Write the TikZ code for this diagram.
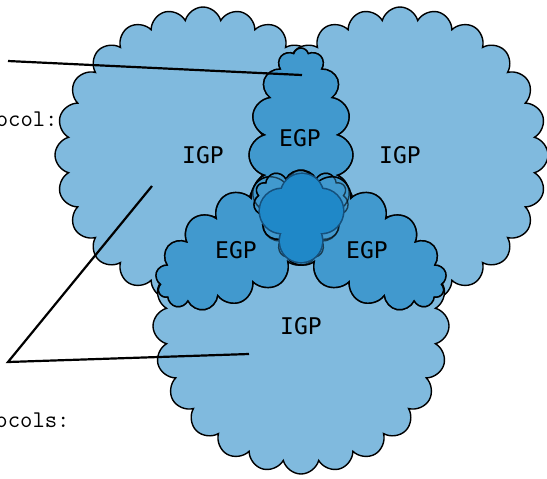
\documentclass[tikz,border=0pt]{standalone}
\usepackage{fontspec}
\newfontfamily\cloudfont{DejaVu Sans Mono}
\usepackage{tikz}
\usetikzlibrary{shapes.symbols}
\usetikzlibrary{positioning}
\usetikzlibrary{calc}
\definecolor{igpblue}{HTML}{80BADE}
\definecolor{egpblue}{HTML}{4199CE}
\definecolor{coreblue}{HTML}{1F88C8}
\definecolor{coreline}{HTML}{15507C}
\tikzstyle{igp}=[cloud, cloud puffs=24, cloud ignores aspect, fill=igpblue, draw, line width=0.7pt, minimum width=148pt, minimum height=148pt, inner sep=0pt]
\tikzstyle{egp}=[cloud, cloud puffs=16, cloud ignores aspect, fill=egpblue, draw, line width=0.7pt, minimum width=107pt, minimum height=52pt, inner sep=0pt]
\tikzstyle{egpedge}=[egp, fill=none, draw opacity=0.6]
\tikzstyle{cloudlabel}=[font=\cloudfont\fontsize{11.5}{14}\selectfont, inner sep=0pt]
\tikzstyle{sidelabel}=[font=\ttfamily\fontsize{12}{14}\selectfont, inner sep=0pt, anchor=base east]
\tikzstyle{pointer}=[draw, line width=1.1pt]

\begin{document}
\begin{tikzpicture}[x=0.5pt, y=-0.5pt]
    \useasboundingbox (0,0) rectangle (547,478);

    % the three IGP domains
    \foreach \x/\y/\n in {203/155/L, 400/155/R, 301/326/B}
        \node[igp] (igp\n) at (\x,\y) {};

    % the three EGP links, then their borders once more
    \foreach \x/\y/\rot/\n in {301/155/90/T, 252/240/210/L, 350/240/330/R}
        \node[egp, rotate=\rot] (egp\n) at (\x,\y) {};
    \foreach \x/\y/\rot/\n in {301/155/90/T, 252/240/210/L, 350/240/330/R}
        \node[egpedge, rotate=\rot] (egpedge\n) at (\x,\y) {};

    % core where the links meet
    \foreach \x/\y/\r in {302/195/21, 282/211/22, 321/211/22, 301/241/21}
        \draw[coreline, line width=1.6pt] (\x,\y) circle[radius=\r];
    \foreach \x/\y/\r in {302/195/21, 282/211/22, 321/211/22, 301/241/21}
        \fill[coreblue] (\x,\y) circle[radius=\r];

    \foreach \x/\y/\n/\t in {203/155/igpL/IGP, 400/155/igpR/IGP, 301/326/igpB/IGP, 300/138/egpT/EGP, 236/250/egpL/EGP, 367/250/egpR/EGP}
        \node[cloudlabel] (text\n) at (\x,\y) {\t};

    \node[sidelabel] (extlabel) at (58,126) {ocol:};
    \node[sidelabel] (intlabel) at (70,427) {ocols:};

    \coordinate (extA) at (8,61);
    \coordinate (extB) at (302,75);
    \coordinate (intA) at (8,362);
    \coordinate (intB) at (152,186);
    \coordinate (intC) at (249,354);
    \path[pointer] (extA) -- (extB);
    \path[pointer] (intB) -- (intA) -- (intC);
\end{tikzpicture}
\end{document}
